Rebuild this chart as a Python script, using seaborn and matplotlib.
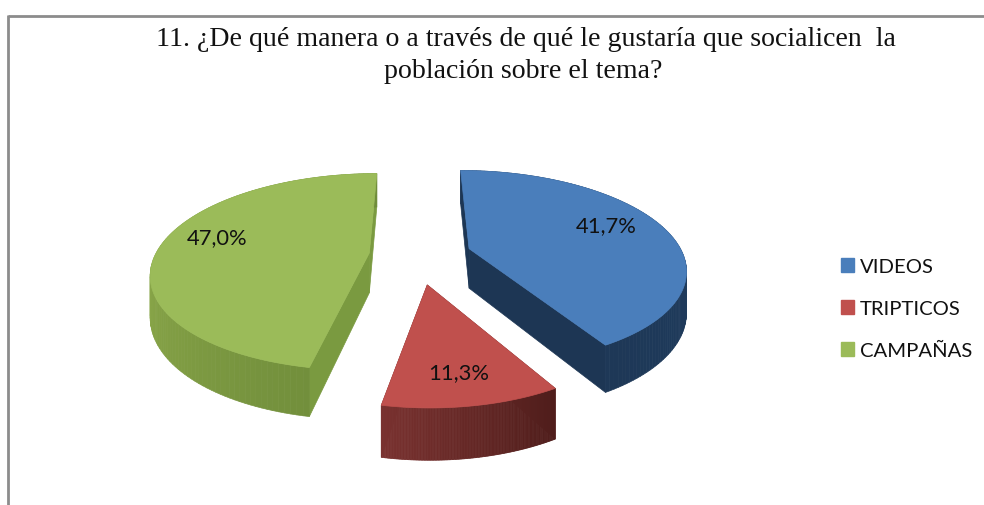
import numpy as np
import matplotlib
matplotlib.use("Agg")
import matplotlib.pyplot as plt
from matplotlib.patches import Patch
import seaborn as sns

categories = ["VIDEOS", "TRIPTICOS", "CAMPAÑAS"]
values = [41.7, 11.3, 47.0]
value_labels = ["41,7%", "11,3%", "47,0%"]
title_lines = ["11. ¿De qué manera o a través de qué le gustaría que socialicen  la",
               "población sobre el tema?"]

top_colors = ["#4a7ebb", "#c0504d", "#9bbb59"]
side_left = ["#1d3654", "#7a3230", "#88a548"]
side_right = ["#1f3b5c", "#4f1d1b", "#6f8c3a"]
radial_colors = ["#1d3654", "#6b2a28", "#7a9a40"]
explode = [0.26, 0.30, 0.22]
radii = [1, 0.93, 1]
label_pos = [(606, 226), (459, 373), (217, 238)]

sns.set_theme(style="white")
plt.rcParams['font.family'] = ['Lato', 'DejaVu Sans']

# pixel sized axes, y going down like the picture
fig = plt.figure(figsize=(9.84, 5.06), dpi=100)
ax = fig.add_axes([0, 0, 1, 1])
ax.set_xlim(0, 984)
ax.set_ylim(506, 0)
ax.axis("off")

cx, cy = 416, 256
rx, ry = 214, 95.4
k = 0.192
depth = 40


def project(X, Y, z=0.0):
    s = 1 / (1 + k * Y)
    return cx + X * rx * s, cy - Y * ry * s + z * depth * s


# clockwise from the top, like the original
edges = np.cumsum([0] + values) / np.sum(values) * 2 * np.pi

for i in [2, 0, 1]:
    a0, a1 = edges[i], edges[i + 1]
    mid = (a0 + a1) / 2
    ox, oy = explode[i] * np.sin(mid), explode[i] * np.cos(mid)
    ang = np.linspace(a0, a1, 120)
    X = ox + radii[i] * np.sin(ang)
    Y = oy + radii[i] * np.cos(ang)

    # radial faces
    for j in [0, -1]:
        xa, ya = project(ox, oy)
        xb, yb = project(X[j], Y[j])
        xc, yc = project(X[j], Y[j], 1)
        xd, yd = project(ox, oy, 1)
        ax.fill([xa, xb, xc, xd], [ya, yb, yc, yd], color=radial_colors[i], lw=0.5)

    # outer rim, shaded in strips
    xt, yt = project(X, Y)
    xs, ys = project(X, Y, 1)
    order = np.argsort(xt)
    shades = sns.blend_palette([side_left[i], side_right[i]], n_colors=len(X))
    rank = np.empty(len(X), dtype=int)
    rank[order] = np.arange(len(X))
    for j in range(len(X) - 1):
        ax.fill([xt[j], xt[j + 1], xs[j + 1], xs[j]],
                [yt[j], yt[j + 1], ys[j + 1], ys[j]],
                color=shades[rank[j]], lw=0.5)

    # top of the slice
    xa, ya = project(ox, oy)
    ax.fill(np.r_[xa, xt], np.r_[ya, yt], color=top_colors[i], lw=0.5)

for txt, (x, y) in zip(value_labels, label_pos):
    ax.text(x, y, txt, ha="center", va="center", fontsize=15.8, color="#111111")

# title
ax.text(526, 39, title_lines[0], ha="center", va="center", fontsize=20.1,
        family="Liberation Serif", color="#111111")
ax.text(523, 71, title_lines[1], ha="center", va="center", fontsize=20.1,
        family="Liberation Serif", color="#111111")

handles = [Patch(color=c) for c in top_colors]
ax.legend(handles, categories, loc="center left", bbox_to_anchor=(0.836, 0.388),
          frameon=False, fontsize=14.6, handlelength=0.63, handleheight=0.63,
          labelspacing=1.23, handletextpad=0.3, labelcolor="#111111")

# grey border, only top and left show in the crop
ax.plot([8, 984], [17, 17], color="#8c8c8c", lw=2, solid_capstyle="butt")
ax.plot([8, 8], [16, 506], color="#8c8c8c", lw=2, solid_capstyle="butt")

plt.savefig("out.png", dpi=100)
